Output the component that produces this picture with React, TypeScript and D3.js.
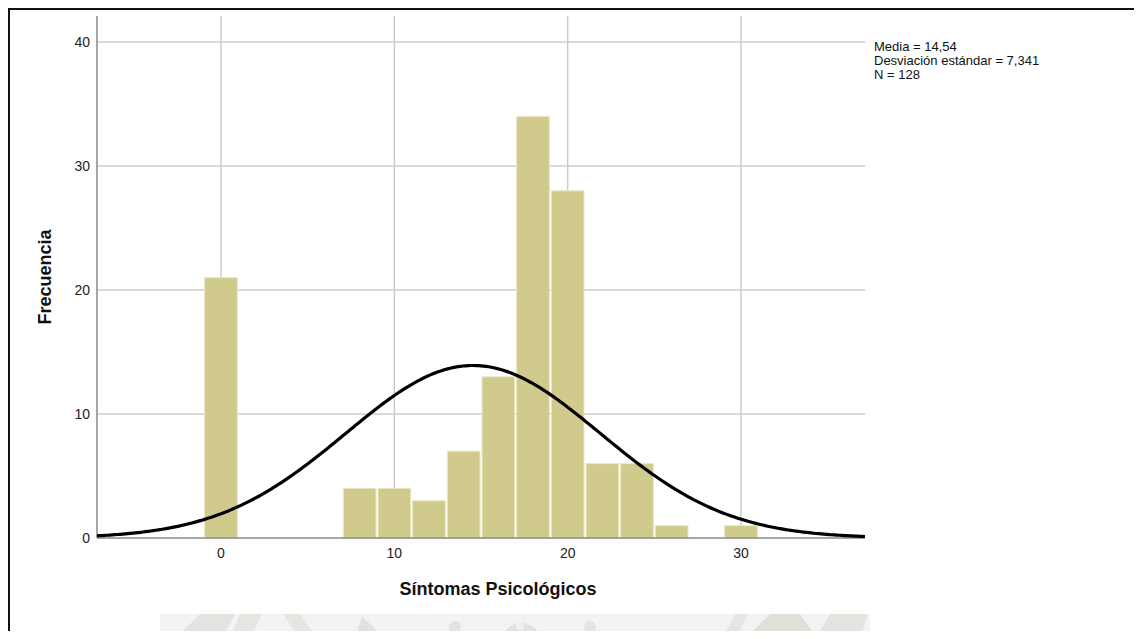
import React from "react";
import * as d3 from "d3";

const binStarts = [-1, 1, 3, 5, 7, 9, 11, 13, 15, 17, 19, 21, 23, 25, 27, 29];
const binCounts = [21, 0, 0, 0, 4, 4, 3, 7, 13, 34, 28, 6, 6, 1, 0, 1];
const binWidth = 2;
const xTicks = [0, 10, 20, 30];
const yTicks = [0, 10, 20, 30, 40];
const mean = 14.54;
const sd = 7.341;
const n = 128;
const legendLines = ["Media = 14,54", "Desviación estándar = 7,341", "N = 128"];

const W = 1142;
const H = 639;
const FONT = "'Liberation Sans', Arial, sans-serif";

export default function App() {
  const x = d3.scaleLinear().domain([0, 30]).range([221, 741]);
  const y = d3.scaleLinear().domain([0, 40]).range([538, 42]);
  const xMin = x.invert(97);
  const xMax = x.invert(865);
  const pdf = (v: number) =>
    (n * binWidth) / (sd * Math.sqrt(2 * Math.PI)) * Math.exp(-0.5 * ((v - mean) / sd) ** 2);
  const pts = d3.range(0, 301).map((i) => xMin + ((xMax - xMin) * i) / 300);
  const line = d3
    .line<number>()
    .x((d) => x(d))
    .y((d) => y(pdf(d)));

  return (
    <div style={{ margin: -8, width: W, height: H, overflow: "hidden", background: "#fff" }}>
      <svg width={W} height={H} style={{ display: "block" }}>
        <rect x={0} y={0} width={W} height={H} fill="#fff" />
        {/* watermark band */}
        <g>
          <rect x={160} y={614} width={710} height={25} fill="#f3f4f1" />
          <polygon points="175,639 200,614 235,614 222,639" fill="#e2e5df" />
          <polygon points="230,639 240,614 262,614 250,639" fill="#e4e7e1" />
          <polygon points="283,614 300,614 318,639 300,639" fill="#e4e7e1" />
          <polygon points="355,639 362,616 385,639" fill="#dfe3dc" />
          <circle cx={455} cy={627} r={6} fill="#e2e5df" />
          <path d="M500,639 Q520,606 545,639 Z" fill="#e0e3dd" />
          <circle cx={520} cy={626} r={4} fill="#eef0ec" />
          <circle cx={590} cy={627} r={6} fill="#e2e5df" />
          <polygon points="722,639 735,614 748,614 736,639" fill="#e4e7e1" />
          <polygon points="745,639 770,614 800,614 818,639" fill="#dde1da" />
          <polygon points="815,639 830,614 868,614 860,639" fill="#e2e5df" />
        </g>
        {/* frame */}
        <path d={`M9,${H + 2} L9,9 L${W + 2},9`} fill="none" stroke="#111" strokeWidth={2} />
        {/* grid */}
        {yTicks
          .filter((t) => t > 0)
          .map((t) => (
            <line key={"gy" + t} x1={97} x2={865} y1={y(t)} y2={y(t)} stroke="#cccccc" strokeWidth={1.5} />
          ))}
        {xTicks.map((t) => (
          <line key={"gx" + t} x1={x(t)} x2={x(t)} y1={16} y2={538} stroke="#cccccc" strokeWidth={1.5} />
        ))}
        {/* bars */}
        {binStarts.map((s, i) =>
          binCounts[i] > 0 ? (
            <rect
              key={"b" + i}
              x={x(s) + 1}
              y={y(binCounts[i])}
              width={x(s + binWidth) - x(s) - 2}
              height={y(0) - y(binCounts[i])}
              fill="#d0ca8c"
              stroke="#ebe7c3"
              strokeWidth={1}
            />
          ) : null
        )}
        {/* axes */}
        <line x1={97} x2={97} y1={16} y2={538} stroke="#8a8a8a" strokeWidth={1.5} />
        <line x1={97} x2={865} y1={538} y2={538} stroke="#8a8a8a" strokeWidth={1.5} />
        {/* normal curve */}
        <path d={line(pts) || ""} fill="none" stroke="#000" strokeWidth={3.2} />
        {/* tick labels */}
        {yTicks.map((t) => (
          <text key={"ty" + t} x={90} y={y(t) + 5} textAnchor="end" fontFamily={FONT} fontSize={14} fill="#222">
            {t}
          </text>
        ))}
        {xTicks.map((t) => (
          <text key={"tx" + t} x={x(t)} y={558} textAnchor="middle" fontFamily={FONT} fontSize={14} fill="#222">
            {t}
          </text>
        ))}
        {/* axis titles */}
        <text
          x={498}
          y={595}
          textAnchor="middle"
          fontFamily={FONT}
          fontSize={18}
          fontWeight="bold"
          fill="#111"
        >
          Síntomas Psicológicos
        </text>
        <text
          transform="translate(51,277) rotate(-90)"
          textAnchor="middle"
          fontFamily={FONT}
          fontSize={18}
          fontWeight="bold"
          fill="#111"
        >
          Frecuencia
        </text>
        {/* legend */}
        {legendLines.map((l, i) => (
          <text key={"l" + i} x={874} y={51 + i * 14} fontFamily={FONT} fontSize={13} fill="#111">
            {l}
          </text>
        ))}
      </svg>
    </div>
  );
}
